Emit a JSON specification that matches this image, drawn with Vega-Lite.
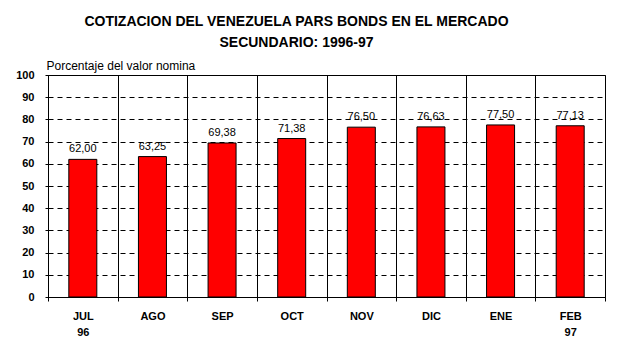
{
  "$schema": "https://vega.github.io/schema/vega-lite/v6.json",
  "autosize": "none",
  "width": 557,
  "height": 222,
  "padding": {"left": 48, "top": 75, "right": 31, "bottom": 52},
  "background": "white",
  "title": {
    "text": ["COTIZACION DEL VENEZUELA PARS BONDS EN EL MERCADO", "SECUNDARIO: 1996-97"],
    "font": "Liberation Sans",
    "fontSize": 14,
    "fontWeight": "bold",
    "color": "black",
    "anchor": "middle",
    "frame": "group",
    "dx": -30,
    "lineHeight": 21,
    "offset": 9
  },
  "data": {
    "values": [
      {"mes": "JUL", "valor": 62.00, "label": "62,00"},
      {"mes": "AGO", "valor": 63.25, "label": "63,25"},
      {"mes": "SEP", "valor": 69.38, "label": "69,38"},
      {"mes": "OCT", "valor": 71.38, "label": "71,38"},
      {"mes": "NOV", "valor": 76.50, "label": "76,50"},
      {"mes": "DIC", "valor": 76.63, "label": "76,63"},
      {"mes": "ENE", "valor": 77.50, "label": "77,50"},
      {"mes": "FEB", "valor": 77.13, "label": "77,13"}
    ]
  },
  "encoding": {
    "x": {
      "field": "mes",
      "type": "nominal",
      "sort": null,
      "scale": {"paddingInner": 0, "paddingOuter": 0},
      "axis": {
        "title": null,
        "labelAngle": 0,
        "labelFont": "Liberation Sans",
        "labelFontSize": 11,
        "labelFontWeight": "bold",
        "labelColor": "black",
        "labelPadding": 9,
        "labelLineHeight": 16,
        "labelExpr": "datum.value == 'JUL' ? ['JUL', '96'] : datum.value == 'FEB' ? ['FEB', '97'] : datum.value",
        "tickBand": "extent",
        "tickSize": 4,
        "tickColor": "black",
        "domainColor": "black",
        "grid": true,
        "gridColor": "black",
        "gridOpacity": 1,
        "gridWidth": 1
      }
    },
    "y": {
      "field": "valor",
      "type": "quantitative",
      "scale": {"domain": [0, 100], "nice": false},
      "axis": {
        "values": [0, 10, 20, 30, 40, 50, 60, 70, 80, 90, 100],
        "title": "Porcentaje del valor nomina",
        "titleAngle": 0,
        "titleAlign": "left",
        "titleBaseline": "alphabetic",
        "titleX": -2,
        "titleY": -6,
        "titleFont": "Liberation Sans",
        "titleFontSize": 12,
        "titleFontWeight": "normal",
        "titleColor": "black",
        "labelFont": "Liberation Sans",
        "labelFontSize": 11,
        "labelFontWeight": "bold",
        "labelColor": "black",
        "labelPadding": 11,
        "tickSize": 3,
        "tickColor": "black",
        "domainColor": "black",
        "grid": true,
        "gridColor": "black",
        "gridOpacity": 1,
        "gridDash": [5, 4],
        "gridWidth": 1
      }
    }
  },
  "layer": [
    {
      "mark": {"type": "bar", "size": 28, "color": "#ff0000", "stroke": "black", "strokeWidth": 1}
    },
    {
      "mark": {"type": "text", "baseline": "alphabetic", "dy": -7, "font": "Liberation Sans", "fontSize": 11, "color": "black"},
      "encoding": {"text": {"field": "label"}}
    }
  ],
  "config": {
    "view": {"stroke": "black", "strokeWidth": 1}
  }
}
